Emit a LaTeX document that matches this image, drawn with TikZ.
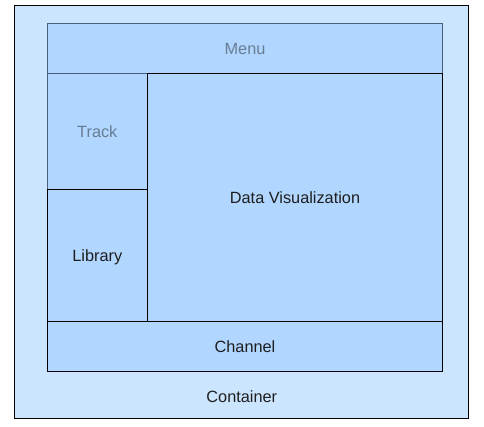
\documentclass[tikz,border=0pt]{standalone}
\usepackage{fontspec}
\setmainfont{Liberation Sans}
\definecolor{outerfill}{HTML}{CCE5FF}
\definecolor{innerfill}{HTML}{B1D6FF}
\definecolor{slate}{HTML}{4A6078}
\definecolor{slatetext}{HTML}{687D94}
\definecolor{darktext}{HTML}{1E1E1E}
\tikzset{
  pane/.style={draw=black, fill=innerfill, line width=1pt, inner sep=0pt, outer sep=0pt,
    rectangle, font=\fontsize{16.3}{18}\selectfont, text=darktext,
    text height=11.7pt, text depth=0pt},
  fadedpane/.style={pane, draw=slate, text=slatetext},
  outerpane/.style={pane, fill=outerfill},
  label/.style={font=\fontsize{16.3}{18}\selectfont, text=darktext, inner sep=0pt,
    text height=11.7pt, text depth=0pt}
}
\begin{document}
\begin{tikzpicture}[x=1pt, y=-1pt]
\useasboundingbox (0,0) rectangle (484,427);
\fill[white] (0,0) rectangle (484,427);
\node[outerpane, minimum width=454pt, minimum height=412pt] (container) at (241.2,212) {};
\node[label] (containerlabel) at (241.8,397) {Container};
\node[fadedpane, minimum width=395.4pt, minimum height=50pt] (menu) at (245,48.3) {Menu};
\node[fadedpane, minimum width=100pt, minimum height=116pt] (track) at (97.3,131.3) {Track};
\node[pane, minimum width=100pt, minimum height=132pt] (library) at (97.3,255.3) {Library};
\node[pane, minimum width=295.4pt, minimum height=248pt] (dataviz) at (295,197.3) {Data Visualization};
\node[pane, minimum width=395.4pt, minimum height=50pt] (channel) at (245,346.3) {Channel};
\end{tikzpicture}
\end{document}
